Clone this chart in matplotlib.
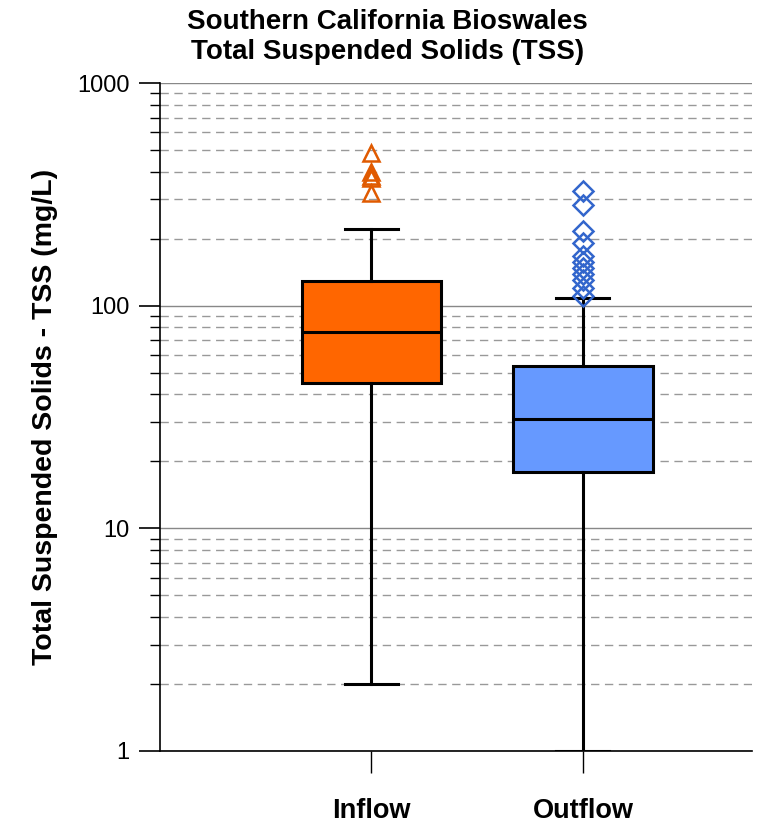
import matplotlib.pyplot as plt
from matplotlib.ticker import LogLocator, NullFormatter, FixedLocator

plt.rcParams['font.family'] = ['Liberation Sans', 'DejaVu Sans']

# box statistics (mg/L)
groups = ['Inflow', 'Outflow']
whisker_low = [2, 1]
q1 = [45, 18]
median = [76, 31]
q3 = [129, 53.5]
whisker_high = [221, 108]
inflow_outliers = [484, 398, 382, 375, 320]
outflow_outliers = [327, 283, 216, 191, 167, 157, 147, 139, 130, 120, 110]

box_colors = ['#FF6600', '#6699FF']
flier_colors = ['#E05A00', '#3366CC']
flier_markers = ['^', 'D']

fig = plt.figure(figsize=(7.62, 8.24), dpi=100)
ax = fig.add_axes([0.21, 0.0886, 0.777, 0.8106])

stats = []
for i, name in enumerate(groups):
    stats.append({
        'label': name,
        'whislo': whisker_low[i],
        'q1': q1[i],
        'med': median[i],
        'q3': q3[i],
        'whishi': whisker_high[i],
        'fliers': [],
    })

bp = ax.bxp(stats, positions=[1, 2], widths=0.66, patch_artist=True,
            showfliers=False,
            boxprops=dict(linewidth=2.2, edgecolor='black'),
            medianprops=dict(color='black', linewidth=2.2),
            whiskerprops=dict(color='black', linewidth=2.2),
            capprops=dict(color='black', linewidth=2.2),
            capwidths=0.25)
for patch, c in zip(bp['boxes'], box_colors):
    patch.set_facecolor(c)
for w in bp['whiskers'] + bp['caps'] + bp['medians'] + bp['boxes']:
    w.set_zorder(3)

# outliers drawn as hollow markers
for pos, vals, m, c in zip([1, 2], [inflow_outliers, outflow_outliers],
                           flier_markers, flier_colors):
    ax.plot([pos] * len(vals), vals, linestyle='none', marker=m,
            markerfacecolor='none', markeredgecolor=c, markersize=12 if m == '^' else 10,
            markeredgewidth=1.8, zorder=4)

ax.set_yscale('log')
ax.set_ylim(1, 1000)
ax.set_xlim(0, 2.8)
ax.yaxis.set_major_locator(FixedLocator([1, 10, 100, 1000]))
ax.set_yticklabels(['1', '10', '100', '1000'])
ax.yaxis.set_minor_locator(LogLocator(base=10, subs=range(2, 10)))
ax.yaxis.set_minor_formatter(NullFormatter())

ax.grid(True, which='major', axis='y', color='#888888', linewidth=1.0, linestyle='-', zorder=0)
ax.grid(True, which='minor', axis='y', color='#999999', linewidth=1.0, linestyle=(0, (6, 4)), zorder=0)
ax.set_axisbelow(True)

for s in ['top', 'right']:
    ax.spines[s].set_visible(False)
ax.spines['left'].set_linewidth(1.2)
ax.spines['bottom'].set_linewidth(1.2)

ax.tick_params(axis='y', which='major', length=15, width=1.2, labelsize=17, pad=7)
ax.tick_params(axis='y', which='minor', length=7, width=1.0)
ax.tick_params(axis='x', which='major', length=16, width=1.0, pad=18)
ax.set_xticks([1, 2])
ax.set_xticklabels(groups, fontsize=19.5, fontweight='bold')

ax.set_ylabel('Total Suspended Solids - TSS (mg/L)', fontsize=20.5, fontweight='bold', labelpad=14)
fig.suptitle('Southern California Bioswales\nTotal Suspended Solids (TSS)', fontsize=20,
             fontweight='bold', x=0.508, y=0.989, va='top', linespacing=1.18)

fig.savefig('out.png', dpi=100)
